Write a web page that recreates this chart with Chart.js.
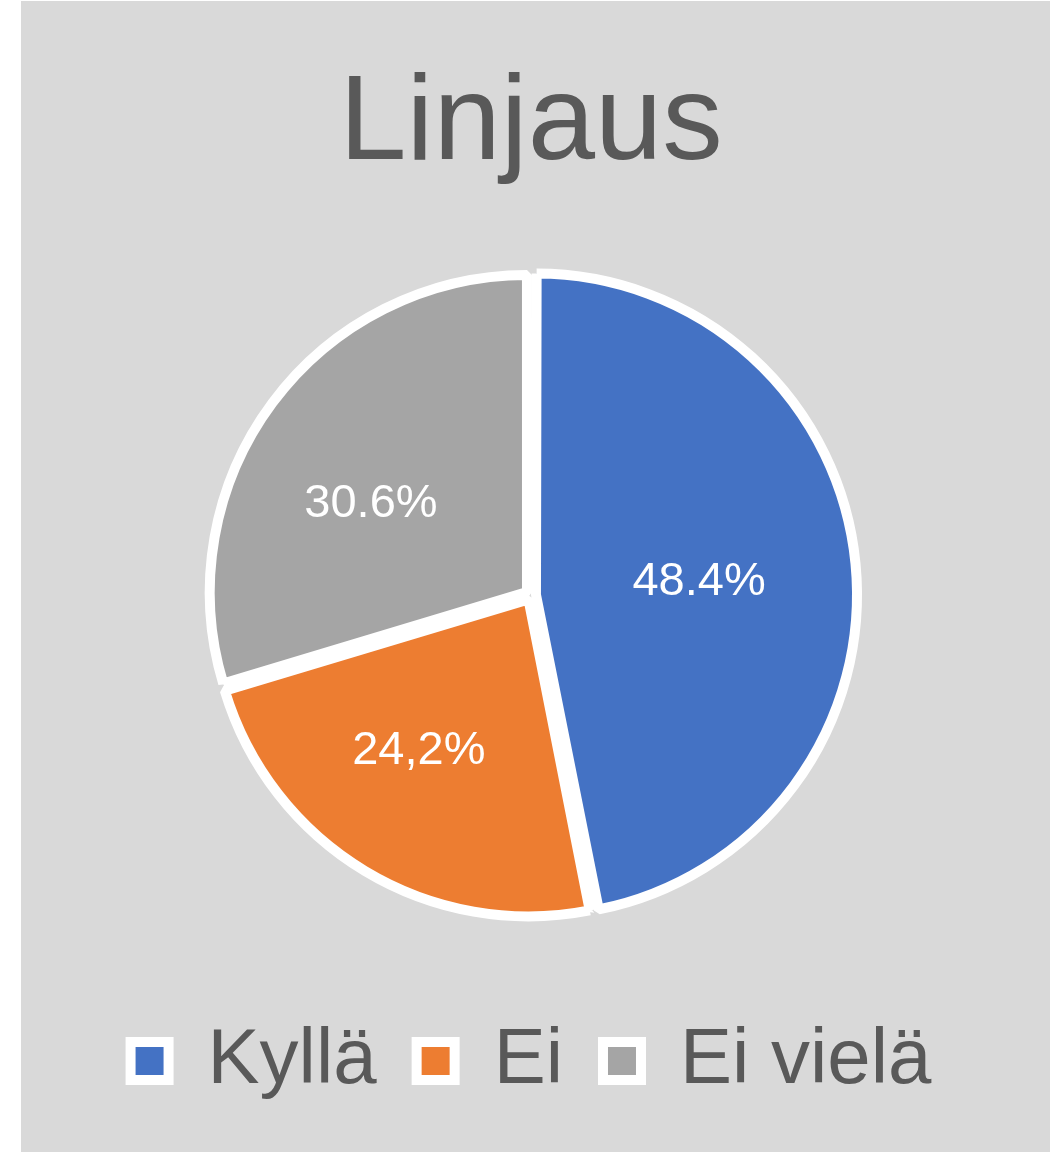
<!DOCTYPE html>
<html>
<head>
<meta charset="utf-8">
<script src="https://cdn.jsdelivr.net/npm/chart.js@4.4.1/dist/chart.umd.min.js"></script>
<style>
    html, body {
        margin: 0;
        padding: 0;
        background: #ffffff;
    }
    #wrap {
        position: absolute;
        left: 21px;
        top: 1px;
        width: 1029px;
        height: 1151px;
        background: #d9d9d9;
    }
</style>
</head>
<body>
<div id="wrap"><canvas id="pieChart"></canvas></div>
<script>
// values
const categories = ["Kyllä", "Ei", "Ei vielä"];
const shares = [48.4, 24.2, 30.6];
const shareLabels = ["48.4%", "24,2%", "30.6%"];
const sliceColors = ["#4472c4", "#ed7d31", "#a5a5a5"];

const FONT = "'Liberation Sans', Arial, sans-serif";

// white value labels inside the slices
const sliceLabels = {
    id: "sliceLabels",
    afterDatasetsDraw(chart, args, opts) {
        const ctx = chart.ctx;
        const arcs = chart.getDatasetMeta(0).data;
        ctx.save();
        ctx.fillStyle = opts.color;
        ctx.font = opts.size + "px " + FONT;
        ctx.textAlign = "center";
        ctx.textBaseline = "middle";
        arcs.forEach((arc, i) => {
            const p = arc.getProps(["x", "y", "startAngle", "endAngle", "outerRadius"], true);
            const mid = (p.startAngle + p.endAngle) / 2 + opts.angleShift[i] * Math.PI / 180;
            const r = p.outerRadius * opts.radius[i] + opts.offset / 4;
            ctx.fillText(shareLabels[i], p.x + Math.cos(mid) * r, p.y + Math.sin(mid) * r);
        });
        ctx.restore();
    },
};

const config = {
    type: "pie",
    data: {
        labels: categories,
        datasets: [
            {
                data: shares,
                backgroundColor: sliceColors,
                borderColor: "#ffffff",
                borderWidth: 10,
                offset: 20,
            },
        ],
    },
    options: {
        responsive: true,
        maintainAspectRatio: false,
        animation: false,
        events: [],
        radius: 317,
        layout: {
            padding: { left: 0, right: 9, top: 0, bottom: 42 },
        },
        plugins: {
            title: {
                display: true,
                text: "Linjaus",
                color: "#595959",
                font: { family: FONT, size: 121, weight: "normal" },
                padding: { top: 52, bottom: 10 },
            },
            legend: {
                position: "bottom",
                labels: {
                    color: "#595959",
                    font: { family: FONT, size: 78 },
                    boxWidth: 38,
                    boxHeight: 38,
                    padding: 40,
                    generateLabels(chart) {
                        return categories.map((c, i) => ({
                            text: c,
                            fillStyle: sliceColors[i],
                            strokeStyle: "#ffffff",
                            lineWidth: 10,
                            fontColor: "#595959",
                            index: i,
                        }));
                    },
                },
            },
            tooltip: { enabled: false },
            sliceLabels: {
                color: "#ffffff",
                size: 47,
                offset: 20,
                radius: [0.516, 0.59, 0.565],
                angleShift: [1, 4.7, -7],
            },
        },
    },
    plugins: [sliceLabels],
};

new Chart(document.getElementById("pieChart"), config);
</script>
</body>
</html>
